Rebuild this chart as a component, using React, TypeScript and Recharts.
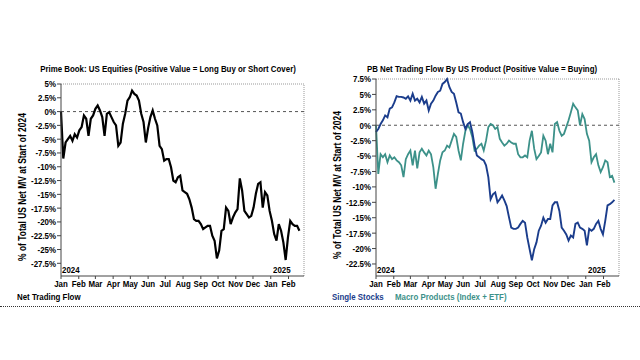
import { LineChart, Line, XAxis, YAxis, ReferenceLine } from 'recharts'

const FONT = "'Liberation Sans', Arial, sans-serif"
const FONT_SIZE = 9.5
const SQUEEZE = 0.83

// day offsets from 2024-01-01
const days = [
  0, 4, 8, 12, 16, 20, 24, 28, 32, 36, 40, 44, 48, 52, 56, 60, 64, 68, 72, 76,
  80, 84, 88, 92, 96, 100, 104, 108, 112, 116, 120, 124, 128, 132, 136, 140, 144, 148, 152, 156,
  160, 164, 168, 172, 176, 180, 184, 188, 192, 196, 200, 204, 208, 212, 216, 220, 224, 228, 232, 236,
  240, 244, 248, 252, 256, 260, 264, 268, 272, 276, 280, 284, 288, 292, 296, 300, 304, 308, 312, 316,
  320, 324, 328, 332, 336, 340, 344, 348, 352, 356, 360, 364, 368, 372, 376, 380, 384, 388, 392, 396,
  400, 404, 408, 412, 416,
]

const netTradingFlow = [
  0, -8.5, -5.6, -5.0, -4.4, -5.3, -4.1, -4.7, -3.4, -2.8, -0.7, -1.3, -4.4, -1.3, -0.7, 0.5, 1.1, 0.2, -1.0, -4.4,
  -0.4, -0.1, -1.0, -1.9, -2.5, -6.2, -5.6, -2.2, -0.4, 2.0, 2.6, 3.8, 3.2, 2.9, 2.0, -0.4, -1.9, -5.6, -3.0, -1.0,
  0.2, -1.3, -2.5, -6.2, -6.8, -8.9, -8.6, -8.6, -10.1, -12.5, -12.8, -11.9, -11.6, -14.3, -14.6, -14.9, -15.9, -17.4, -19.5, -19.8,
  -19.8, -20.4, -21.3, -21.0, -20.7, -20.7, -22.5, -23.4, -26.6, -25.2, -21.6, -21.3, -17.4, -18.0, -20.4, -19.2, -18.3, -17.7, -12.1, -14.3,
  -18.0, -18.6, -19.2, -18.9, -17.4, -14.9, -13.1, -12.8, -17.4, -14.6, -15.2, -18.0, -19.8, -22.2, -23.4, -20.4, -21.6, -23.7, -26.9, -22.8,
  -19.8, -20.4, -20.7, -20.7, -21.6,
]

const singleStocks = [
  -1.1, -0.6, 0.2, 0.8, 1.6, 1.3, 2.7, 2.9, 3.7, 4.7, 4.6, 4.6, 4.5, 4.3, 4.7, 4.0, 5.1, 4.0, 4.3, 3.7,
  4.6, 3.5, 4.0, 2.4, 3.5, 4.0, 4.8, 5.4, 5.6, 6.7, 7.0, 7.5, 6.2, 5.4, 5.1, 3.7, 2.1, 1.9, 0.5, -0.6,
  0.2, 0.5, -1.1, -3.3, -4.9, -5.2, -5.5, -5.7, -6.5, -8.4, -12.0, -11.2, -10.9, -12.5, -12.0, -11.4, -12.2, -13.1, -14.9, -16.6,
  -16.8, -16.8, -16.6, -16.0, -15.5, -15.8, -18.2, -20.1, -21.9, -20.1, -19.0, -17.1, -16.3, -15.0, -15.8, -15.2, -15.2, -13.0, -12.5, -12.5,
  -13.9, -16.6, -17.1, -17.7, -18.7, -17.9, -18.2, -16.0, -15.8, -16.6, -16.8, -17.1, -19.5, -16.8, -17.1, -16.8, -16.0, -15.5, -16.8, -17.7,
  -15.5, -13.0, -12.8, -12.5, -12.1,
]

const macroProducts = [
  0, -7.9, -4.7, -5.2, -4.7, -6.0, -4.9, -5.5, -5.2, -5.7, -6.0, -6.5, -8.4, -5.5, -4.7, -4.1, -6.5, -4.1, -7.0, -4.4,
  -3.8, -4.4, -4.9, -4.1, -4.7, -6.8, -10.3, -7.9, -5.7, -4.4, -4.1, -3.3, -3.6, -2.5, -1.4, -1.9, -4.1, -5.7, -3.0, -0.9,
  0.0, -0.6, -1.9, -4.1, -3.8, -3.3, -3.0, -4.1, -2.5, -0.3, 0.2, 0.0, -0.6, -0.3, -2.2, -2.8, -3.3, -3.0, -2.5, -2.8,
  -3.0, -3.0, -4.7, -5.2, -5.2, -4.9, -5.2, -2.5, -0.9, -3.8, -5.5, -5.0, -4.4, -1.7, -2.5, -4.7, -3.0, -4.4, 0.2, 0.5,
  -0.9, -1.7, -1.4, -0.3, 0.8, 2.1, 3.5, 2.9, 2.4, 0.0, 1.8, 1.0, -1.4, -2.5, -6.0, -5.2, -4.7, -6.5, -7.6, -6.8,
  -5.7, -6.0, -8.4, -8.2, -9.3,
]

const monthTicks = [0, 31, 60, 91, 121, 152, 182, 213, 244, 274, 305, 335, 366, 397]
const monthLabels = ['Jan', 'Feb', 'Mar', 'Apr', 'May', 'Jun', 'Jul', 'Aug', 'Sep', 'Oct', 'Nov', 'Dec', 'Jan', 'Feb']

const leftTicks = [5, 2.5, 0, -2.5, -5, -7.5, -10, -12.5, -15, -17.5, -20, -22.5, -25, -27.5]
const rightTicks = [7.5, 5, 2.5, 0, -2.5, -5, -7.5, -10, -12.5, -15, -17.5, -20, -22.5]

const chartData = days.map((day, i) => ({
  day,
  net: netTradingFlow[i],
  single: singleStocks[i],
  macro: macroProducts[i],
}))

const X_MAX = 424
const BLUE = '#1b3d8c'
const TEAL = '#3c9189'

function MonthTick({ x, y, payload }: any) {
  return (
    <g transform={`translate(${x},${y})`}>
      <text
        transform={`scale(${SQUEEZE},1)`}
        textAnchor="middle"
        dy="0.71em"
        fill="#000"
        fontSize={FONT_SIZE}
        fontWeight={700}
        fontFamily={FONT}
      >
        {monthLabels[monthTicks.indexOf(payload.value)]}
      </text>
    </g>
  )
}

function PctTick({ x, y, payload }: any) {
  return (
    <g transform={`translate(${x},${y})`}>
      <text
        transform={`scale(${SQUEEZE},1)`}
        textAnchor="end"
        dy="0.355em"
        fill="#000"
        fontSize={FONT_SIZE}
        fontWeight={700}
        fontFamily={FONT}
      >
        {`${payload.value}%`}
      </text>
    </g>
  )
}

type PanelProps = {
  left: number
  yTop: number
  yBottom: number
  yTicks: number[]
  axisWidth: number
  marginTop: number
  marginRight: number
  lines: { key: string; color: string; width: number }[]
}

function Panel({ left, yTop, yBottom, yTicks, axisWidth, marginTop, marginRight, lines }: PanelProps) {
  return (
    <div style={{ position: 'absolute', left, top: 0 }}>
      <LineChart
        width={320}
        height={300}
        data={chartData}
        margin={{ top: marginTop, right: marginRight, left: 0, bottom: 4 }}
      >
        <XAxis
          dataKey="day"
          type="number"
          domain={[0, X_MAX]}
          ticks={monthTicks}
          interval={0}
          tickSize={3}
          tickMargin={1}
          height={20}
          axisLine={{ stroke: '#444' }}
          tickLine={{ stroke: '#444' }}
          tick={<MonthTick />}
        />
        <YAxis
          type="number"
          domain={[yBottom, yTop]}
          ticks={yTicks}
          interval={0}
          width={axisWidth}
          tickSize={4}
          tickMargin={1}
          axisLine={{ stroke: '#444' }}
          tickLine={{ stroke: '#444' }}
          tick={<PctTick />}
        />
        <ReferenceLine y={yTop} stroke="#999" strokeDasharray="1 1" />
        <ReferenceLine x={X_MAX} stroke="#999" strokeDasharray="1 1" />
        <ReferenceLine y={0} stroke="#555" strokeDasharray="3 3" />
        {lines.map((l) => (
          <Line
            key={l.key}
            dataKey={l.key}
            type="linear"
            stroke={l.color}
            strokeWidth={l.width}
            strokeLinejoin="miter"
            dot={false}
            isAnimationActive={false}
          />
        ))}
      </LineChart>
    </div>
  )
}

const textBase = {
  position: 'absolute' as const,
  fontFamily: FONT,
  fontWeight: 700,
  fontSize: FONT_SIZE,
  lineHeight: '10px',
  whiteSpace: 'nowrap' as const,
  color: '#000',
}

const squeezeLeft = { transform: `scaleX(${SQUEEZE})`, transformOrigin: 'left center' }
const squeezeMid = { transform: `scaleX(${SQUEEZE})`, transformOrigin: 'center center' }

const yLabelStyle = {
  ...textBase,
  fontSize: 10.2,
  width: 180,
  textAlign: 'center' as const,
  transform: `rotate(-90deg) scaleX(${SQUEEZE})`,
}

export default function App() {
  return (
    <div style={{ position: 'absolute', left: 0, top: 0, width: 640, height: 360, background: '#fff' }}>
      <Panel
        left={0}
        yTop={5}
        yBottom={-29.8}
        yTicks={leftTicks}
        axisWidth={61}
        marginTop={84}
        marginRight={16}
        lines={[{ key: 'net', color: '#000', width: 2.2 }]}
      />
      <Panel
        left={320}
        yTop={7.5}
        yBottom={-24.45}
        yTicks={rightTicks}
        axisWidth={56}
        marginTop={79}
        marginRight={21}
        lines={[
          { key: 'macro', color: TEAL, width: 1.8 },
          { key: 'single', color: BLUE, width: 1.9 },
        ]}
      />

      <div style={{ ...textBase, ...squeezeMid, left: 8, top: 64, width: 320, textAlign: 'center' }}>
        Prime Book: US Equities (Positive Value = Long Buy or Short Cover)
      </div>
      <div style={{ ...textBase, ...squeezeMid, left: 322, top: 64, width: 320, textAlign: 'center' }}>
        PB Net Trading Flow By US Product (Positive Value = Buying)
      </div>

      <div style={{ ...yLabelStyle, left: 23 - 90, top: 182 }}>% of Total US Net MV at Start of 2024</div>
      <div style={{ ...yLabelStyle, left: 338 - 90, top: 180 }}>% of Total US Net MV at Start of 2024</div>

      <div style={{ ...textBase, ...squeezeLeft, left: 62, top: 265 }}>2024</div>
      <div style={{ ...textBase, ...squeezeLeft, left: 273, top: 265 }}>2025</div>
      <div style={{ ...textBase, ...squeezeLeft, left: 377, top: 265 }}>2024</div>
      <div style={{ ...textBase, ...squeezeLeft, left: 588, top: 265 }}>2025</div>

      <div style={{ ...textBase, ...squeezeLeft, left: 17, top: 292 }}>Net Trading Flow</div>
      <div style={{ ...textBase, ...squeezeLeft, left: 332, top: 292, color: BLUE }}>Single Stocks</div>
      <div style={{ ...textBase, ...squeezeLeft, left: 395, top: 292, color: TEAL }}>Macro Products (Index + ETF)</div>

      <div style={{ position: 'absolute', left: 0, top: 306, width: 640, borderTop: '1px dotted #333' }} />
    </div>
  )
}
